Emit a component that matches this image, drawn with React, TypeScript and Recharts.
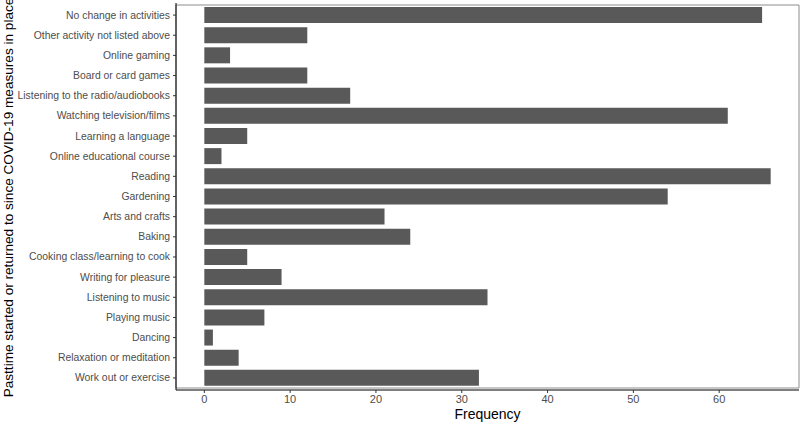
import React from "react";
import { Bar, BarChart, Label, ReferenceArea, XAxis, YAxis } from "recharts";

const pastimes = [
  "No change in activities",
  "Other activity not listed above",
  "Online gaming",
  "Board or card games",
  "Listening to the radio/audiobooks",
  "Watching television/films",
  "Learning a language",
  "Online educational course",
  "Reading",
  "Gardening",
  "Arts and crafts",
  "Baking",
  "Cooking class/learning to cook",
  "Writing for pleasure",
  "Listening to music",
  "Playing music",
  "Dancing",
  "Relaxation or meditation",
  "Work out or exercise",
];

const frequency = [65, 12, 3, 12, 17, 61, 5, 2, 66, 54, 21, 24, 5, 9, 33, 7, 1, 4, 32];

const xTicks = [0, 10, 20, 30, 40, 50, 60];

const data = pastimes.map((p, i) => ({ pastime: p, n: frequency[i] }));

const FONT = "'Liberation Sans', Arial, sans-serif";

// single-line tick so long labels don't wrap
function PastimeTick({ x, y, payload }: any) {
  return (
    <text
      x={x}
      y={y}
      textAnchor="end"
      dominantBaseline="central"
      style={{ fill: "#4d4d4d", fontSize: 10.4, fontFamily: FONT }}
    >
      {payload.value}
    </text>
  );
}

export default function App() {
  return (
    <div style={{ position: "absolute", left: 0, top: 0, background: "#fff" }}>
      <BarChart
        width={800}
        height={423}
        data={data}
        layout="vertical"
        barCategoryGap="10%"
        margin={{ top: 3, right: 1, bottom: 0, left: 0 }}
      >
        <ReferenceArea
          x1={-3.3}
          x2={69.3}
          fill="none"
          stroke="#8c8c8c"
          strokeWidth={1}
          ifOverflow="visible"
        />
        <XAxis
          type="number"
          dataKey="n"
          domain={[-3.3, 69.3]}
          allowDataOverflow
          ticks={xTicks}
          height={33}
          tickSize={3}
          tickMargin={2}
          tick={{ fill: "#4d4d4d", fontSize: 11, fontFamily: FONT }}
          tickLine={{ stroke: "#333" }}
          axisLine={{ stroke: "#000" }}
        >
          <Label
            value="Frequency"
            position="insideBottom"
            offset={4}
            style={{ fill: "#000", fontSize: 14, fontFamily: FONT }}
          />
        </XAxis>
        <YAxis
          type="category"
          dataKey="pastime"
          width={176}
          padding={{ top: 2, bottom: 2 }}
          interval={0}
          tickSize={3}
          tickMargin={3}
          tick={<PastimeTick />}
          tickLine={{ stroke: "#333" }}
          axisLine={{ stroke: "#000" }}
        >
          <Label
            content={({ viewBox }: any) => {
              const cy = viewBox.y + viewBox.height / 2 + 1;
              return (
                <text
                  x={8}
                  y={cy}
                  transform={`rotate(-90, 8, ${cy})`}
                  textAnchor="middle"
                  dominantBaseline="central"
                  style={{ fill: "#000", fontSize: 13.6, fontFamily: FONT }}
                >
                  Pasttime started or returned to since COVID-19 measures in place
                </text>
              );
            }}
          />
        </YAxis>
        <Bar dataKey="n" fill="#595959" isAnimationActive={false} />
      </BarChart>
    </div>
  );
}
